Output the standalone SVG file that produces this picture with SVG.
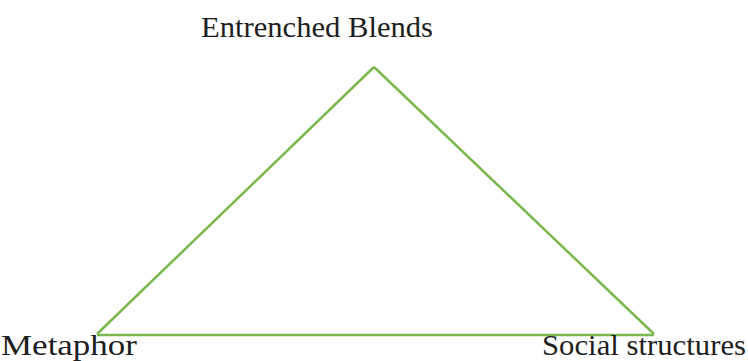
<svg xmlns="http://www.w3.org/2000/svg" width="748" height="361" viewBox="0 0 748 361">
<style>
.lbl{font-family:"Liberation Serif","Times New Roman",serif;font-size:29px;fill:#1e1e1e}
.edge{stroke:#7ab84e;stroke-width:2.5;fill:none}
</style>
<rect width="748" height="361" fill="#fff"/>
<g id="connectors">
<line class="edge" x1="97" y1="334" x2="374" y2="67"/>
<line class="edge" x1="374" y1="67" x2="654" y2="334"/>
<line class="edge" x1="97" y1="335" x2="654" y2="335" stroke="#6aad3a" stroke-width="2"/>
</g>
<g id="entrenched"><text class="lbl" x="201" y="37" textLength="232" lengthAdjust="spacingAndGlyphs">Entrenched Blends</text></g>
<g id="metaphor"><text class="lbl" x="1" y="355" textLength="136" lengthAdjust="spacingAndGlyphs">Metaphor</text></g>
<g id="social"><text class="lbl" x="542" y="355" textLength="204" lengthAdjust="spacingAndGlyphs">Social structures</text></g>
</svg>
